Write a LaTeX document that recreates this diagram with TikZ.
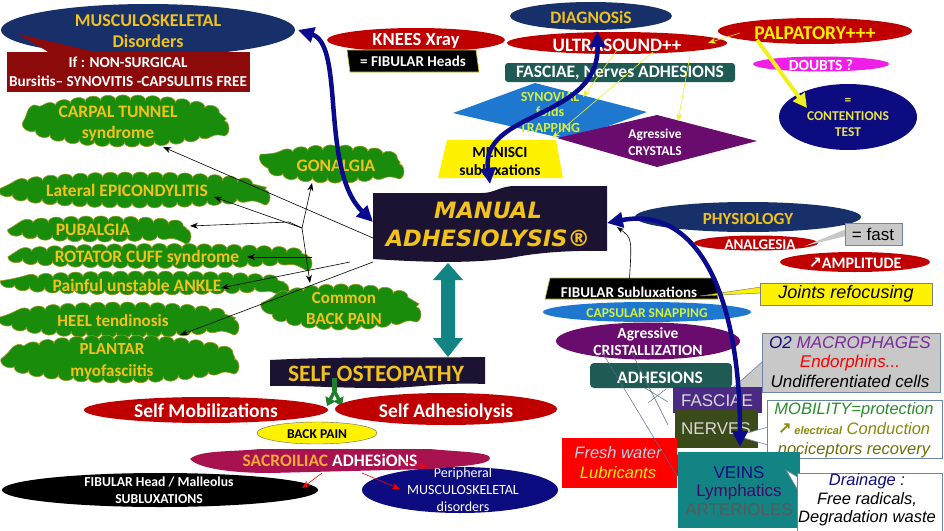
\documentclass[tikz,border=0pt]{standalone}
\usepackage{fontspec}
\setmainfont{Carlito}
\newfontfamily\arialf{Liberation Sans}
\newfontfamily\djv{DejaVu Sans}
\usetikzlibrary{shapes.geometric,arrows.meta,decorations.pathmorphing}
\newcommand\fsz[2]{\fontsize{#1}{#2}\selectfont}
\newcommand\Bf[2]{\fontsize{#1}{#2}\selectfont\bfseries}
\definecolor{navyA}{HTML}{17306A}
\definecolor{navyB}{HTML}{0C0C80}
\definecolor{redA}{HTML}{C00000}
\definecolor{redB}{HTML}{8C0A0A}
\definecolor{goldt}{HTML}{F2C21C}
\definecolor{cgreen}{HTML}{1A8C0C}
\definecolor{colive}{HTML}{9A9A20}
\definecolor{tealbox}{HTML}{1F5A55}
\definecolor{purp}{HTML}{6A0C6E}
\definecolor{blueD}{HTML}{1E78D0}
\definecolor{darkbg}{HTML}{1C1232}
\definecolor{tealA}{HTML}{138484}
\definecolor{crim}{HTML}{A8124E}
\definecolor{magen}{HTML}{F01EE6}
\definecolor{greyA}{HTML}{C8C8C8}
\definecolor{arrowblue}{HTML}{0A0A8C}
\definecolor{limeY}{HTML}{D2F03C}
\definecolor{fasc}{HTML}{4A2A82}
\definecolor{nerv}{HTML}{3A4A18}
\definecolor{boxedge}{HTML}{6A86A8}
\definecolor{olivetext}{HTML}{8A8A0A}
\definecolor{mob}{HTML}{2A8C2A}
\definecolor{macro}{HTML}{7A2A9A}
\definecolor{freshw}{HTML}{BCD4E6}
\definecolor{contY}{HTML}{E8E24A}
\definecolor{sacroO}{HTML}{F4A83A}
\definecolor{forkG}{HTML}{1F7F2C}
\definecolor{yline}{HTML}{F0F020}
\begin{document}
\begin{tikzpicture}[x=1pt,y=-1pt,
 lbl/.style={inner sep=0pt, align=center},
 cloudp/.style={fill=cgreen, draw=colive, line width=0.6pt, decorate, decoration={bumps, segment length=30pt, amplitude=5pt}},
 thinarr/.style={draw=black, line width=0.6pt, -{Stealth[length=8pt,width=6pt]}},
 yarr/.style={draw=yline, line width=0.6pt, -{Stealth[length=8pt,width=6pt]}},
 rarr/.style={draw=red, line width=0.6pt, -{Stealth[length=8pt,width=6pt]}},
 bigblue/.style={draw=arrowblue, line width=4.5pt, {Triangle[length=16pt,width=15pt]}-{Triangle[length=16pt,width=15pt]}},
 greyline/.style={draw=boxedge!80!black, line width=0.5pt},
 ]
\useasboundingbox (0,0) rectangle (944,530);
\fill[white] (0,0) rectangle (944,530);

% ---- MUSCULOSKELETAL
\fill[navyA] (148,30) ellipse [x radius=147, y radius=26];
\fill[redB] (7,52) rectangle (250,92);
\fill[redB] (18,34) -- (50,53) -- (100,53) -- cycle;
\node[lbl, text=goldt, font={\Bf{18}{21}}] (musc) at (148,31) {MUSCULOSKELETAL\\Disorders};
\node[lbl, text=white, font={\Bf{15.2}{19}}] (nonsurg) at (128,72) {If : NON-SURGICAL\\Bursitis– SYNOVITIS -CAPSULITIS FREE};

% ---- KNEES
\fill[redA] (416,40) ellipse [x radius=89, y radius=12];
\node[lbl, text=white, font={\Bf{18.5}{20}}] (knees) at (416,41) {KNEES Xray};
\filldraw[fill=black, draw=yellow!80!black, line width=0.6pt] (347,50) -- (476,50) -- (479,72) -- (350,72) -- cycle;
\node[lbl, text=white, font={\Bf{15}{17}}] (fibh) at (413,61) {= FIBULAR Heads};

% ---- DIAGNOSIS / ULTRASOUND
\fill[navyA] (591,16) ellipse [x radius=81, y radius=14];
\node[lbl, text=goldt, font={\Bf{17.5}{17}}] (diag) at (591,17) {DIAGNOSiS};
\fill[redA] (617,43) ellipse [x radius=110, y radius=11];
\node[lbl, text=white, font={\Bf{19}{19}}] (ultra) at (617,45) {ULTRASOUND++};
\fill[tealbox, rounded corners=3pt] (505,63) rectangle (735,82);
\node[lbl, text=white, font={\Bf{17.5}{18}}] (fna) at (620,73) {FASCIAE, Nerves ADHESIONS};

% ---- PALPATORY etc
\fill[redA] (815,31) ellipse [x radius=97, y radius=13];
\node[lbl, text=yellow, font={\Bf{19.5}{19}}] (palp) at (815,33) {PALPATORY+++};
\fill[magen] (821,64) ellipse [x radius=68, y radius=7.5];
\node[lbl, text=white, font={\Bf{15.5}{15}}] (doubts) at (821,65) {DOUBTS ?};
\fill[navyB] (848,117) ellipse [x radius=69, y radius=33];
\node[lbl, text=contY, font={\Bf{13.5}{16}}] (cont) at (848,118) {=\\CONTENTIONS\\TEST};

% ---- diamonds
\fill[blueD] (453,113) -- (535,83) -- (647,112) -- (570,140) -- cycle;
\node[lbl, text=limeY, font={\Bf{14}{15.5}}] (syn) at (550,112) {SYNOVIAL\\folds\\TRAPPING};
\fill[purp] (557,138) -- (657,115) -- (757,141) -- (657,167) -- cycle;
\node[lbl, text=white, font={\Bf{13.5}{17}}] (cry) at (655,142) {Agressive\\CRYSTALS};
\fill[yellow] (447,140) -- (556,140) -- (563,178) -- (438,178) -- cycle;
\node[lbl, text=black, font={\Bf{15.5}{18}}] (men) at (500,161) {MENISCI\\subluxations};

% ---- MANUAL
\fill[darkbg] (373,193) -- (482,193) .. controls (495,193) and (500,186) .. (515,186) -- (607,186) -- (607,251) .. controls (560,250) and (530,254) .. (510,258) .. controls (470,264) and (420,262) .. (373,259) -- cycle;
\node[lbl, text=goldt, font={\djv\fsz{22.5}{28}\bfseries\itshape}] (manual) at (488,224) {MANUAL\\ADHESIOLYSIS®};

% ---- clouds
\path[cloudp] (126,121) ellipse [x radius=98, y radius=21];
\node[lbl, text=goldt, font={\Bf{17.5}{21}}] (carpal) at (118,124) {CARPAL TUNNEL\\syndrome};
\path[cloudp] (136,190) ellipse [x radius=129, y radius=13];
\node[lbl, text=goldt, font={\Bf{17.5}{18}}] (epic) at (127,190) {Lateral EPICONDYLITIS};
\path[cloudp] (100,229) ellipse [x radius=86, y radius=8];
\node[lbl, text=goldt, font={\Bf{17.5}{18}}] (pub) at (93,230) {PUBALGIA};
\path[cloudp] (160,256) ellipse [x radius=147, y radius=7.5];
\node[lbl, text=goldt, font={\Bf{17.5}{18}}] (rot) at (147,258) {ROTATOR CUFF syndrome};
\path[cloudp] (148,283) ellipse [x radius=136, y radius=7];
\node[lbl, text=goldt, font={\Bf{17.5}{18}}] (ank) at (137,285) {Painful unstable ANKLE};
\path[cloudp] (121,320) ellipse [x radius=113, y radius=13];
\node[lbl, text=goldt, font={\Bf{17}{18}}] (heel) at (113,321) {HEEL tendinosis};
\path[cloudp] (121,359) ellipse [x radius=113, y radius=19];
\node[lbl, text=goldt, font={\Bf{17}{22}}] (plant) at (112,361) {PLANTAR\\myofasciitis};
\path[cloudp] (334,164) ellipse [x radius=65, y radius=14];
\node[lbl, text=goldt, font={\Bf{17.5}{18}}] (gon) at (336,166) {GONALGIA};
\path[cloudp] (343,307) ellipse [x radius=73, y radius=18];
\node[lbl, text=goldt, font={\Bf{17}{21}}] (back) at (344,308) {Common\\BACK PAIN};

% ---- teal double arrow
\fill[tealA] (448,263) -- (463,280) -- (455,280) -- (455,338) -- (463,338) -- (448,357) -- (433,338) -- (441,338) -- (441,280) -- (433,280) -- cycle;

% ---- SELF OSTEOPATHY
\fill[darkbg] (270,360) .. controls (350,356) and (420,358) .. (485,357) -- (485,384) .. controls (440,382) and (420,388) .. (380,388) .. controls (330,388) and (300,385) .. (270,386) -- cycle;
\node[lbl, text=goldt, font={\Bf{23.5}{24}}] (selfo) at (376,374) {SELF OSTEOPATHY};
\coordinate (forkS) at (334.5,378);
\coordinate (forkM) at (334.5,391);
\coordinate (forkL) at (327,406);
\coordinate (forkR) at (342,406);
\draw[forkG, line width=5pt] (forkS) -- (forkM);
\draw[forkG, line width=3.5pt, -{Triangle[length=8pt,width=11pt]}] (forkM) -- (forkL);
\draw[forkG, line width=3.5pt, -{Triangle[length=8pt,width=11pt]}] (forkM) -- (forkR);

\fill[redA] (206,410) ellipse [x radius=122, y radius=13];
\node[lbl, text=white, font={\Bf{19.5}{19}}] (smob) at (206,411) {Self Mobilizations};
\fill[redA] (446,409) ellipse [x radius=111, y radius=16];
\node[lbl, text=white, font={\Bf{19.5}{19}}] (sadh) at (446,412) {Self Adhesiolysis};
\filldraw[fill=yellow, draw=black!60, line width=0.4pt] (317,433) ellipse [x radius=60, y radius=11];
\node[lbl, text=black, font={\Bf{13.5}{14}}] (bp) at (317,434) {BACK PAIN};

% ---- lower ellipses
\fill[black] (160,490) ellipse [x radius=158, y radius=17];
\node[lbl, text=white, font={\Bf{13.7}{17}}] (fibm) at (159,490) {FIBULAR Head / Malleolus\\SUBLUXATIONS};
\fill[navyB] (460,490) ellipse [x radius=98, y radius=23];
\node[lbl, text=white, font={\fsz{14}{17}}] (periph) at (463,490) {Peripheral\\MUSCULOSKELETAL\\disorders};
\fill[crim] (190,459) .. controls (200,450) and (230,452) .. (260,449) -- (430,449) .. controls (460,452) and (490,452) .. (490,458) .. controls (490,465) and (460,466) .. (430,469) -- (270,473) .. controls (240,473) and (200,470) .. (190,459) -- cycle;
\node[lbl, font={\Bf{17.5}{17}}] (sacro) at (330,460) {\textcolor{sacroO}{SACROILIAC} \textcolor{white}{ADHESiONS}};

% ---- PHYSIOLOGY
\fill[navyA] (748,217) ellipse [x radius=113, y radius=15];
\node[lbl, text=goldt, font={\Bf{17}{18}}] (phys) at (748,219) {PHYSIOLOGY};
\fill[redA] (756,243) ellipse [x radius=62, y radius=7.5];
\node[lbl, text=white, font={\Bf{15}{15}}] (analg) at (760,245) {ANALGESIA};
\fill[greyA] (846,229) -- (846,236) -- (805,246) -- cycle;
\filldraw[fill=greyA, draw=boxedge, line width=0.6pt] (845,223) rectangle (902,245);
\node[lbl, font={\arialf\fsz{17}{19}}] (fast) at (873,234) {= fast};
\fill[redA] (855,262) ellipse [x radius=75, y radius=10];
\node[lbl, text=white, font={\Bf{16}{16}}] (ampl) at (855,263) {{\djv ↗}AMPLITUDE};

% ---- right column
\filldraw[fill=black, draw=yellow!70!black, line width=0.6pt] (550,278) -- (716,278) -- (718,299) -- (545,299) -- cycle;
\node[lbl, text=white, font={\Bf{15}{16}}] (fibs) at (629,292) {FIBULAR Subluxations};
\filldraw[fill=yellow, draw=gray, line width=0.5pt] (761,287) -- (700,296) -- (761,293);
\filldraw[fill=yellow, draw=gray, line width=0.6pt] (760,283) rectangle (932,305);
\node[lbl, font={\arialf\itshape\fsz{18}{18}}] (joints) at (846,294) {Joints refocusing};
\fill[blueD] (647,312) ellipse [x radius=104, y radius=10];
\node[lbl, text=limeY, font={\Bf{13.5}{15}}] (caps) at (647,313) {CAPSULAR SNAPPING};
\fill[purp] (648,341) ellipse [x radius=92, y radius=18.5];
\node[lbl, text=white, font={\Bf{15.5}{17}}] (crist) at (648,342) {Agressive\\CRISTALLIZATION};
\fill[tealbox, rounded corners=4pt] (590,363) rectangle (732,388);
\node[lbl, text=white, font={\Bf{17.5}{18}}] (adh) at (660,378) {ADHESIONS};

\filldraw[fill=greyA, draw=boxedge, line width=0.6pt] (762,362) -- (727,393) -- (762,388);
\filldraw[fill=greyA, draw=boxedge, line width=0.6pt] (762,333) rectangle (940,392);
\node[lbl, font={\arialf\itshape\fsz{17}{19.5}}] (macroN) at (850,362) {\textcolor{navyB}{O2} \textcolor{macro}{MACROPHAGES}\\\textcolor{red}{Endorphins...}\\Undifferentiated cells};

\fill[fasc] (673,387) rectangle (762,413);
\node[lbl, text=white!85!black, font={\arialf\fsz{17}{19}}] (fasciae) at (717,401) {FASCIAE};
\fill[nerv] (675,410) rectangle (758,448);
\node[lbl, text=white!85!black, font={\arialf\fsz{17}{19}}] (nerves) at (716,429) {NERVES};

\filldraw[fill=white, draw=boxedge, line width=0.6pt] (768,427) -- (737,436) -- (768,445);
\filldraw[fill=white, draw=boxedge, line width=0.6pt] (767,400) rectangle (942,458);
\node[lbl, font={\arialf\itshape\fsz{16.5}{20}}] (mobil) at (854,430) {\textcolor{mob}{MOBILITY=protection}\\\textcolor{olivetext}{{\djv\bfseries ↗}\,{\bfseries\fsz{11}{20}electrical} Conduction}\\\textcolor{olivetext!80!black}{nociceptors recovery}};

\fill[red] (562,438) rectangle (677,488);
\fill[red] (676,452) -- (684,466) -- (676,478) -- cycle;
\node[lbl, font={\arialf\itshape\fsz{16.5}{20}}] (fresh) at (618,463) {\textcolor{freshw}{Fresh water}\\\textcolor{yellow}{Lubricants}};

\fill[tealA] (678,452) rectangle (800,528);
\node[lbl, font={\arialf\fsz{17}{18.5}}] (veins) at (739,491) {\textcolor{navyB}{VEINS}\\\textcolor{navyB!70!purple}{Lymphatics}\\\textcolor{black!65}{ARTERIOLES}};

\filldraw[fill=white, draw=boxedge, line width=0.6pt] (799,478) -- (786,470) -- (799,492);
\filldraw[fill=white, draw=boxedge, line width=0.6pt] (797,473) rectangle (942,532);
\node[lbl, font={\arialf\itshape\fsz{16.5}{18.5}}] (drain) at (867,500) {\textcolor{navyB}{Drainage :}\\Free radicals,\\Degradation waste};

% ---- thin grey lines
\draw[greyline] (602,352) -- (677,476);
\draw[greyline] (632,353) -- (668,425);
\draw[greyline] (645,388) -- (668,402);
\draw[greyline] (648,403) -- (666,389);

% ---- black arrows
\coordinate (hub) at (302,228);
\coordinate (mL1) at (373,238);
\coordinate (mL2) at (373,262);
\coordinate (carpT) at (163,147);
\draw[thinarr] (mL1) -- (carpT);
\draw[thinarr] (hub) -- (214,197);
\draw[thinarr] (hub) -- (289,222) -- (190,226);
\draw[thinarr] (hub) -- (312,183);
\draw[thinarr] (hub) -- (310,283);
\draw[thinarr] (312,257) -- (247,257);
\draw[thinarr] (350,262) -- (221,288);
\draw[thinarr] (mL2) -- (180,335);
\draw[black, line width=0.6pt, {Stealth[length=7pt,width=5pt]}-{Stealth[length=7pt,width=5pt]}] (617,227) .. controls (632,238) .. (fibs.north);

% ---- yellow arrows
\draw[yarr] (740,33) -- (708,43);
\draw[yline, line width=4pt, -{Triangle[length=14pt,width=14pt]}] (757,40) -- (807,108);
\draw[yarr] (617,50) -- (583,97);
\draw[yarr] (653,52) -- (552,138);
\draw[yarr] (690,55) -- (678,121);

% ---- red arrows
\draw[rarr] (322,473) -- (302,488);
\draw[rarr] (362,473) -- (400,489);
\draw[rarr] (405,462) -- (427,467);

% ---- big blue arrows
\draw[bigblue] (298,30) .. controls (345,45) and (320,170) .. (373,222);
\draw[bigblue] (597,31) .. controls (600,120) and (480,110) .. (490,184);
\draw[bigblue] (607,223) .. controls (700,205) and (740,300) .. (740,447);
\end{tikzpicture}
\end{document}
